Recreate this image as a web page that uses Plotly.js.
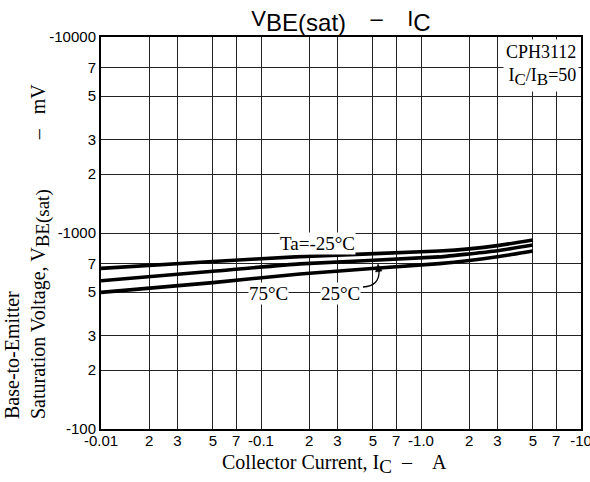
<!DOCTYPE html>
<html>
<head>
<meta charset="utf-8">
<script src="https://cdn.plot.ly/plotly-3.0.1.min.js"></script>
<style>html,body{margin:0;padding:0;background:#fff;}#chart{width:590px;height:482px;}</style>
</head>
<body>
<div id="chart"></div>
<script>
// Collector current (A), magnitudes
var currentA = [0.01, 0.05, 0.175, 1.3, 2, 3, 5];
// V_BE(sat) magnitudes (mV)
var vbeMinus25 = [660, 715, 758, 809, 830, 862, 921];
var vbe25 = [571, 638, 696, 755, 782, 812, 868];
var vbe75 = [498, 558, 618, 698, 724, 756, 809];

var xTickVals = [0.01,0.02,0.03,0.05,0.07,0.1,0.2,0.3,0.5,0.7,1,2,3,5,7,10];
var xTickText = ['-0.01','2','3','5','7','-0.1','2','3','5','7','-1.0','2','3','5','7','-10'];
var yTickVals = [100,200,300,500,700,1000,2000,3000,5000,7000,10000];
var yTickText = ['-100','2','3','5','7','-1000','2','3','5','7','-10000'];

var sans = 'Liberation Sans, Arial, sans-serif';
var serif = 'Liberation Serif, Times New Roman, serif';
var sp = function (n) { return new Array(n + 1).join('\u00a0'); };

function curve(y) {
  return {x: currentA, y: y, mode: 'lines', type: 'scatter',
          line: {color: '#000', width: 3.6, shape: 'spline', smoothing: 0.5},
          hoverinfo: 'none', showlegend: false};
}
var data = [curve(vbeMinus25), curve(vbe25), curve(vbe75)];

function px(x) { return (x - 101) / 480; }
function py(y) { return (429 - y) / 392; }

var layout = {
  width: 590, height: 482,
  margin: {l: 101, r: 9, t: 37, b: 53},
  paper_bgcolor: '#fff', plot_bgcolor: '#fff',
  title: {text: 'V<sub><span style="font-size:24px">BE(sat)</span></sub>' + sp(4) + '\u2013' + sp(4) + 'I<sub><span style="font-size:24px">C</span></sub>',
          font: {family: sans, size: 22, color: '#000'},
          x: 0.578, xanchor: 'center', y: 0.962, yanchor: 'middle'},
  xaxis: {type: 'log', range: [-2, 1], tickvals: xTickVals, ticktext: xTickText,
          showgrid: true, gridcolor: '#222', gridwidth: 1, zeroline: false,
          showline: true, linecolor: '#000', linewidth: 2, mirror: true, ticks: '',
          ticklabeloverflow: 'allow', ticklabelstandoff: -3,
          tickfont: {family: sans, size: 15, color: '#000'}},
  yaxis: {type: 'log', range: [2, 4], tickvals: yTickVals, ticktext: yTickText,
          showgrid: true, gridcolor: '#222', gridwidth: 1, zeroline: false,
          showline: true, linecolor: '#000', linewidth: 2, mirror: true, ticks: '',
          tickfont: {family: sans, size: 15, color: '#000'}},
  annotations: [
    {xref: 'paper', yref: 'paper', x: px(334), y: py(464), xanchor: 'center', yanchor: 'middle', showarrow: false,
     text: 'Collector Current, I<sub><span style="font-size:19px">C</span></sub>' + sp(2) + '\u2013' + sp(4) + 'A', font: {family: serif, size: 20, color: '#000'}},
    {xref: 'paper', yref: 'paper', x: px(27), y: py(252), xanchor: 'center', yanchor: 'middle', showarrow: false,
     textangle: -90, align: 'left',
     text: 'Base-to-Emitter<br>Saturation Voltage, V<sub><span style="font-size:19px">BE(sat)</span></sub>' + sp(10) + '\u2013' + sp(3) + 'mV', font: {family: serif, size: 20, color: '#000'}},
    {xref: 'paper', yref: 'paper', x: 0.995, y: 0.995, xanchor: 'right', yanchor: 'top', showarrow: false, align: 'right',
     text: 'CPH3112<br>I<sub><span style="font-size:17px">C</span></sub>/I<sub><span style="font-size:17px">B</span></sub>=50', font: {family: serif, size: 18, color: '#000'},
     bgcolor: '#fff', borderpad: 2},
    {xref: 'paper', yref: 'paper', x: px(317), y: py(243), showarrow: false,
     text: 'Ta=-25\u00b0C', font: {family: serif, size: 19, color: '#000'}, bgcolor: '#fff', borderpad: 0},
    {xref: 'paper', yref: 'paper', x: px(268), y: py(294), showarrow: false,
     text: '75\u00b0C', font: {family: serif, size: 19, color: '#000'}, bgcolor: '#fff', borderpad: 0},
    {xref: 'paper', yref: 'paper', x: px(340), y: py(293), showarrow: false,
     text: '25\u00b0C', font: {family: serif, size: 19, color: '#000'}, bgcolor: '#fff', borderpad: 0}
  ],
  shapes: [
    {type: 'path', xref: 'paper', yref: 'paper',
     path: 'M ' + px(363) + ' ' + py(287) + ' Q ' + px(380) + ' ' + py(286) + ' ' + px(379) + ' ' + py(270),
     line: {color: '#000', width: 1.3}},
    {type: 'path', xref: 'paper', yref: 'paper',
     path: 'M ' + px(378) + ' ' + py(264) + ' L ' + px(375.5) + ' ' + py(272) + ' L ' + px(382) + ' ' + py(271) + ' Z',
     fillcolor: '#000', line: {color: '#000', width: 0.5}}
  ]
};

Plotly.newPlot('chart', data, layout, {staticPlot: true, displayModeBar: false});
</script>
</body>
</html>
